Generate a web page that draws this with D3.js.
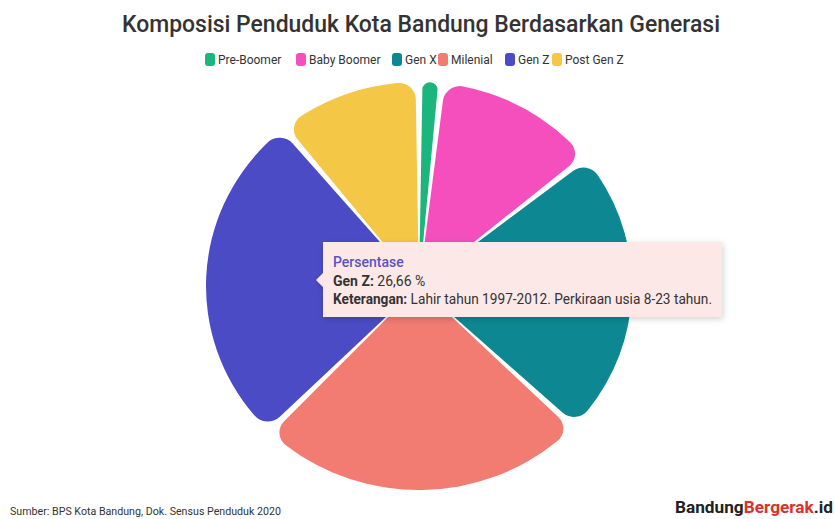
<!DOCTYPE html>
<html><head><meta charset="utf-8">
<script src="https://cdn.jsdelivr.net/npm/d3@7"></script>
<style>
html,body{margin:0;padding:0;background:#fff;}
svg{display:block;font-family:Roboto,"Noto Sans",sans-serif;}
</style></head>
<body>
<svg id="c" width="835" height="519"></svg>
<script>
const categories = ["Pre-Boomer","Baby Boomer","Gen X","Milenial","Gen Z","Post Gen Z"];
const values = [1.7, 12.5, 22.9, 25.3, 26.66, 10.94];
const colors = ["#1bb57d","#f44fbd","#0d8892","#f27c72","#4b4bc6","#f5c746"];
const title = "Komposisi Penduduk Kota Bandung Berdasarkan Generasi";
const tooltipLines = ["Persentase","Gen Z:","26,66 %","Keterangan:","Lahir tahun 1997-2012. Perkiraan usia 8-23 tahun."];
const source = "Sumber: BPS Kota Bandung, Dok. Sensus Penduduk 2020";

const svg = d3.select("#c");
const cx = 419, cy = 286, R = 213, Ry = 204;

svg.append("text").attr("x",421).attr("y",32).attr("text-anchor","middle")
  .attr("font-size",23).attr("font-weight",500).attr("fill","#333")
  .attr("textLength",598).attr("lengthAdjust","spacingAndGlyphs").text(title);

// legend
const legX = [205,296,392,438,505,552];
const leg = svg.append("g");
categories.forEach((c,i)=>{
  const g = leg.append("g").attr("transform",`translate(${legX[i]},53)`);
  g.append("rect").attr("width",10).attr("height",13).attr("rx",3).attr("fill",colors[i]);
  g.append("text").attr("x",13).attr("y",11).attr("font-size",12).attr("fill","#333").text(c);
});

const pie = d3.pie().sort(null).value(d=>d)(values);
const arc = d3.arc().innerRadius(0).outerRadius(R).cornerRadius(17)
  .padAngle(7/200).padRadius(200);
const gp = svg.append("g").attr("transform",`translate(${cx},${cy}) scale(1,${Ry/R})`);
gp.selectAll("path").data(pie).join("path")
  .attr("d",arc).attr("fill",(d,i)=>colors[i]);

// tooltip
const defs = svg.append("defs");
const f = defs.append("filter").attr("id","sh").attr("x","-10%").attr("y","-30%").attr("width","120%").attr("height","160%");
f.append("feDropShadow").attr("dx",1).attr("dy",2).attr("stdDeviation",3).attr("flood-color","#000").attr("flood-opacity",0.18);
const tx = 323, ty = 242, tw = 399, th = 75;
svg.append("path").attr("filter","url(#sh)")
  .attr("d",`M${tx},${ty} H${tx+tw} V${ty+th} H${tx} V${ty+45} L${tx-7},${ty+38} L${tx},${ty+31} Z`)
  .attr("fill","#fde8e8");
svg.append("text").attr("x",333).attr("y",267).attr("font-size",14).attr("font-weight",500)
  .attr("fill","#5a52c0").text(tooltipLines[0]);
const t2 = svg.append("text").attr("x",333).attr("y",286).attr("font-size",14).attr("fill","#333");
t2.append("tspan").attr("font-weight",700).text(tooltipLines[1]);
t2.append("tspan").text(" "+tooltipLines[2]);
const t3 = svg.append("text").attr("x",333).attr("y",304).attr("font-size",14).attr("fill","#333")
  .attr("textLength",379).attr("lengthAdjust","spacingAndGlyphs");
t3.append("tspan").attr("font-weight",700).text(tooltipLines[3]);
t3.append("tspan").text(" "+tooltipLines[4]);

svg.append("text").attr("x",10).attr("y",515).attr("font-size",10).attr("fill","#333")
  .attr("textLength",271).attr("lengthAdjust","spacingAndGlyphs").text(source);
const lg = svg.append("text").attr("x",675).attr("y",513).attr("font-size",17).attr("font-weight",700).attr("fill","#222")
  .attr("textLength",158).attr("lengthAdjust","spacingAndGlyphs");
lg.append("tspan").text("Bandung");
lg.append("tspan").attr("fill","#e0302b").text("Bergerak");
lg.append("tspan").text(".id");
</script>
</body></html>
